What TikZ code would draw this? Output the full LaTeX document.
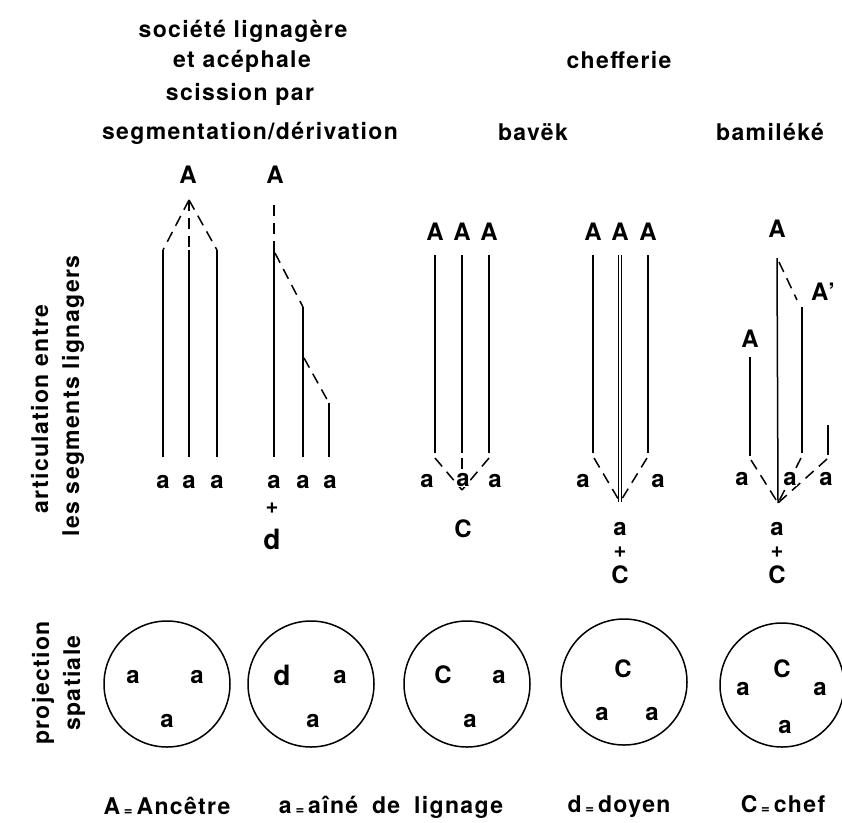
\documentclass[tikz,border=0pt]{standalone}
\usepackage{fontspec}
\setmainfont{TeX Gyre Heros}[LetterSpace=6]
\newcommand{\smalleq}{{\fontsize{15}{15}\selectfont\raisebox{-1.5pt}{=}}}
\begin{document}
\begin{tikzpicture}[x=1pt,y=-1pt,
  lbl/.style={anchor=base, inner sep=0pt, font=\fontsize{23}{27}\selectfont\bfseries},
  letter/.style={lbl, font=\fontsize{24}{28}\selectfont\bfseries},
  biglbl/.style={lbl, font=\fontsize{28}{30}\selectfont\bfseries},
  pluslbl/.style={anchor=center, inner sep=0pt, font=\fontsize{22}{22}\selectfont\bfseries},
  side/.style={lbl, rotate=90},
  lineage/.style={line width=1.5pt},
  link/.style={line width=1.5pt, dash pattern=on 11pt off 7pt},
  ring/.style={draw, circle, line width=1.5pt, minimum size=126pt, inner sep=0pt}]
\useasboundingbox (0,0) rectangle (842,822);

% ---- headings
\node[lbl] (t1) at (243,37) {société lignagère};
\node[lbl] (t2) at (242,67) {et acéphale};
\node[lbl] (t3) at (240,100) {scission par};
\node[lbl] (t4) at (250,139) {segmentation/dérivation};
\node[lbl] (t5) at (619,68) {chefferie};
\node[lbl] (t6) at (533,140) {bavëk};
\node[lbl] (t7) at (770,140) {bamiléké};

% ---- side headings
\node[side] (s1) at (48,409) {articulation entre};
\node[side] (s2) at (79,396) {les segments lignagers};
\node[side] (s3) at (49,683) {projection};
\node[side] (s4) at (80,683) {spatiale};

% ---- column 1: segmentation
\node[letter] (c1A) at (188,183) {A};
\coordinate (c1p) at (189,200);
\foreach \x [count=\i] in {163,189,217}{
  \coordinate (c1t\i) at (\x,250);
  \coordinate (c1b\i) at (\x,457);
  \draw[link] (c1p) -- (c1t\i);
  \draw[lineage] (c1t\i) -- (c1b\i);
  \node[letter] (c1a\i) at (\x,488) {a};
}

% ---- column 2: derivation
\node[letter] (c2A) at (275,183) {A};
\coordinate (c2p) at (274,205);
\coordinate (c2t1) at (274,250);
\coordinate (c2b1) at (274,457);
\coordinate (c2s2) at (275,253);
\coordinate (c2t2) at (303,307);
\coordinate (c2b2) at (303,457);
\coordinate (c2s3) at (304,358);
\coordinate (c2t3) at (329,403);
\coordinate (c2b3) at (329,457);
\draw[link] (c2p) -- (c2t1);
\draw[lineage] (c2t1) -- (c2b1);
\draw[link] (c2s2) -- (c2t2);
\draw[lineage] (c2t2) -- (c2b2);
\draw[link] (c2s3) -- (c2t3);
\draw[lineage] (c2t3) -- (c2b3);
\node[letter] (c2a1) at (274,488) {a};
\node[letter] (c2a2) at (303,488) {a};
\node[letter] (c2a3) at (330,488) {a};
\node[pluslbl] (c2plus) at (272,508) {+};
\node[biglbl] (c2d) at (272,549) {d};

% ---- column 3: bavek
\coordinate (c3m) at (462,490);
\foreach \x [count=\i] in {435,462,489}{
  \node[letter] (c3A\i) at (\x,240) {A};
  \coordinate (c3t\i) at (\x,255);
  \coordinate (c3b\i) at (\x,453);
  \coordinate (c3d\i) at (\x,458);
  \draw[lineage] (c3t\i) -- (c3b\i);
  \draw[link] (c3d\i) -- (c3m);
}
\node[letter] (c3a1) at (427,487) {a};
\node[letter, fill=white, inner sep=0.6pt] (c3a2) at (463,486) {a};
\node[letter] (c3a3) at (495,487) {a};
\node[letter] (c3C) at (463,537) {C};

% ---- column 4: bavek, chief lineage
\coordinate (c4m) at (620,502);
\foreach \x [count=\i] in {593,620,648}{
  \node[letter] (c4A\i) at (\x,240) {A};
  \coordinate (c4t\i) at (\x,255);
}
\coordinate (c4b1) at (593,453);
\coordinate (c4b3) at (648,453);
\coordinate (c4d1) at (594,458);
\coordinate (c4d3) at (647,458);
\draw[lineage] (c4t1) -- (c4b1);
\draw[lineage] (c4t3) -- (c4b3);
\draw[line width=1pt, double, double distance=1.2pt] (c4t2) -- (c4m);
\draw[link] (c4d1) -- (c4m);
\draw[link] (c4d3) -- (c4m);
\node[letter] (c4a1) at (583,487) {a};
\node[letter] (c4a3) at (658,487) {a};
\node[letter] (c4a) at (620,535) {a};
\node[pluslbl] (c4plus) at (620,552) {+};
\node[letter] (c4C) at (620,583) {C};

% ---- column 5: bamileke
\node[letter] (c5A) at (777,237) {A};
\node[letter] (c5Ap) at (823,300) {A’};
\node[letter] (c5Al) at (750,347) {A};
\coordinate (c5m) at (778,503);
\coordinate (c5t1) at (777,258);
\coordinate (c5s2) at (779,262);
\coordinate (c5e2) at (797,300);
\coordinate (c5t2) at (802,307);
\coordinate (c5b2) at (802,453);
\coordinate (c5d2) at (801,458);
\coordinate (c5t0) at (750,357);
\coordinate (c5b0) at (750,456);
\coordinate (c5d0) at (751,460);
\coordinate (c5t3) at (828,425);
\coordinate (c5b3) at (828,455);
\coordinate (c5d3) at (827,459);
\draw[lineage] (c5t1) -- (c5m);
\draw[link] (c5s2) -- (c5e2);
\draw[lineage] (c5t2) -- (c5b2);
\draw[lineage] (c5t0) -- (c5b0);
\draw[lineage] (c5t3) -- (c5b3);
\draw[link] (c5d0) -- (c5m);
\draw[link] (c5d2) -- (c5m);
\draw[link] (c5d3) -- (c5m);
\node[letter] (c5a1) at (742,485) {a};
\node[letter, fill=white, inner sep=0.6pt] (c5a2) at (790,485) {a};
\node[letter] (c5a3) at (826,485) {a};
\node[letter] (c5a) at (777,535) {a};
\node[pluslbl] (c5plus) at (777,552) {+};
\node[letter] (c5C) at (777,583) {C};

% ---- spatial projection
\node[ring] (r1) at (167,684) {};
\node[letter] (r1a1) at (133,683) {a};
\node[letter] (r1a2) at (197,683) {a};
\node[letter] (r1a3) at (167,727) {a};

\node[ring] (r2) at (311,684) {};
\node[biglbl] (r2d) at (282,685) {d};
\node[letter] (r2a1) at (340,683) {a};
\node[letter] (r2a2) at (313,727) {a};

\node[ring] (r3) at (467,684) {};
\node[letter] (r3C) at (443,683) {C};
\node[letter] (r3a1) at (499,683) {a};
\node[letter] (r3a2) at (470,727) {a};

\node[ring] (r4) at (624,682) {};
\node[letter] (r4C) at (623,677) {C};
\node[letter] (r4a1) at (602,720) {a};
\node[letter] (r4a2) at (652,720) {a};

\node[ring, minimum size=124pt] (r5) at (782,685) {};
\node[letter] (r5a1) at (743,695) {a};
\node[letter] (r5C) at (782,677) {C};
\node[letter] (r5a2) at (820,695) {a};
\node[letter] (r5a3) at (785,733) {a};

% ---- legend
\node[lbl] (k1) at (167,814) {A\,\smalleq\,Ancêtre};
\node[lbl] (k2) at (391,813) {a\,\smalleq\,aîné\hspace{6pt} de\hspace{6pt} lignage};
\node[lbl] (k3) at (619,812) {d\,\smalleq\,doyen};
\node[lbl] (k4) at (783,812) {C\,\smalleq\,chef};
\end{tikzpicture}
\end{document}
